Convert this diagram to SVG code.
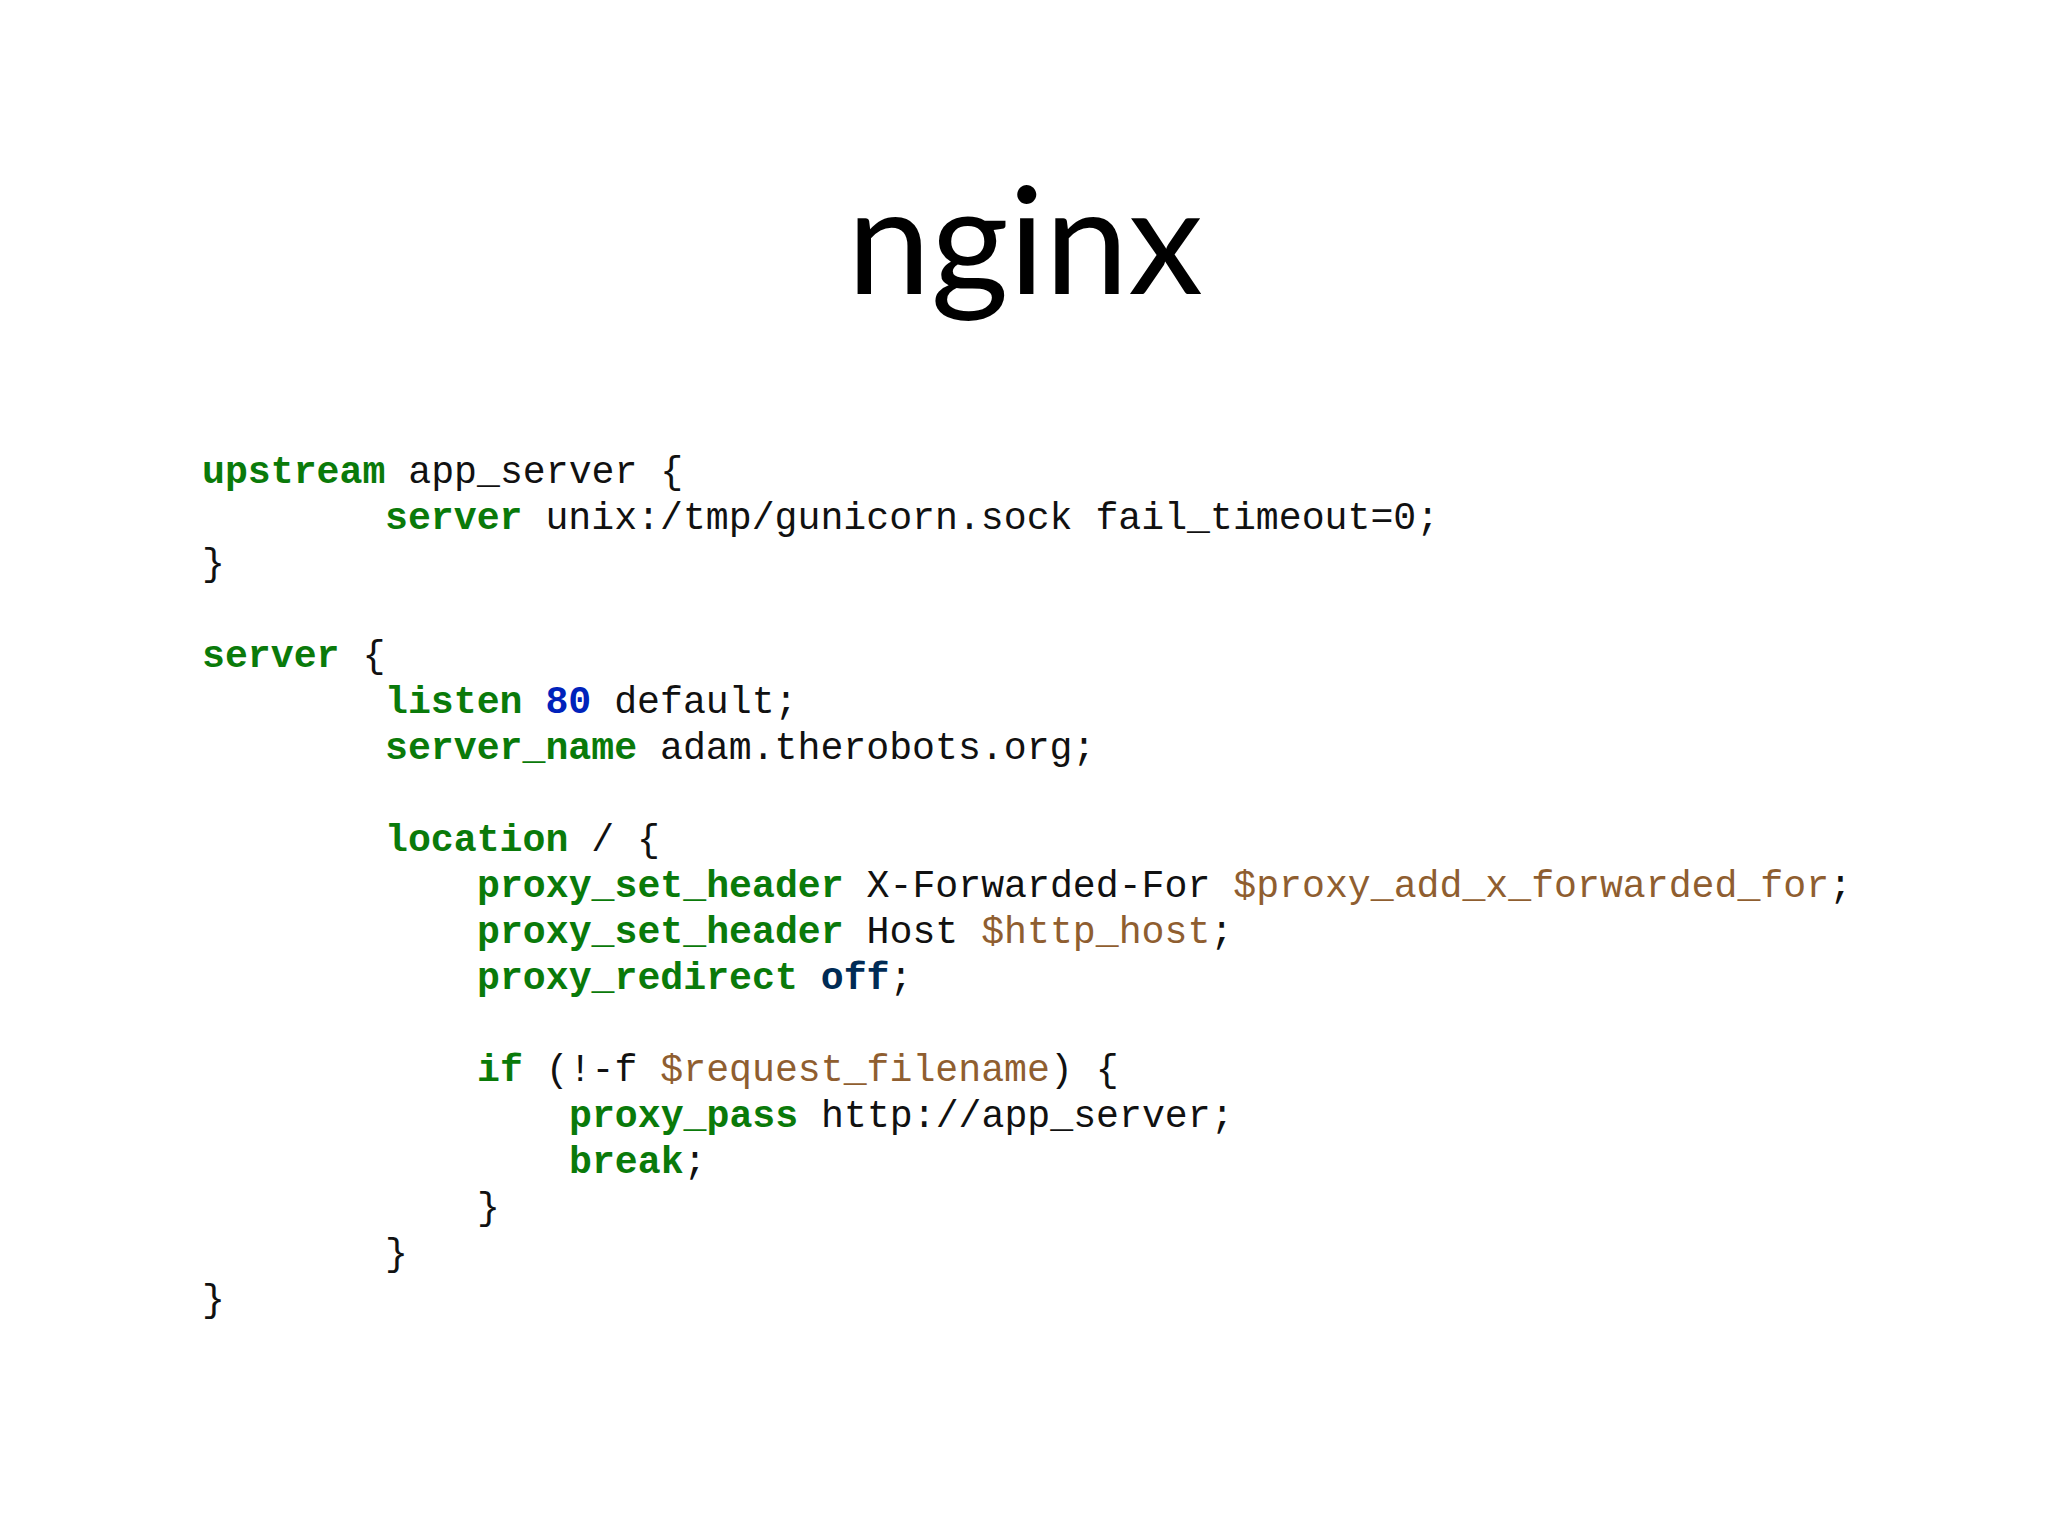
<svg xmlns="http://www.w3.org/2000/svg" width="2048" height="1536" viewBox="0 0 2048 1536">
<style>
.c{font-family:"Liberation Mono","Courier New",monospace;font-size:38.2px;fill:#111}
.k{fill:#0a7a0a;font-weight:bold}
.n{fill:#0022bb;font-weight:bold}
.o{fill:#002b55;font-weight:bold}
.v{fill:#8f5e30}
</style>
<rect width="2048" height="1536" fill="#fff"/>
<text x="1025" y="294" text-anchor="middle" font-family="Lato,'Open Sans',sans-serif" font-size="150" fill="#000">nginx</text>
<g id="code" class="c">
<text x="202" y="483"><tspan class="k">upstream</tspan> app_server {</text>
<text x="385" y="529"><tspan class="k">server</tspan> unix:/tmp/gunicorn.sock fail_timeout=0;</text>
<text x="202" y="575">}</text>
<text x="202" y="667"><tspan class="k">server</tspan> {</text>
<text x="385" y="713"><tspan class="k">listen</tspan> <tspan class="n">80</tspan> default;</text>
<text x="385" y="759"><tspan class="k">server_name</tspan> adam.therobots.org;</text>
<text x="385" y="851"><tspan class="k">location</tspan> / {</text>
<text x="477" y="897"><tspan class="k">proxy_set_header</tspan> X-Forwarded-For <tspan class="v">$proxy_add_x_forwarded_for</tspan>;</text>
<text x="477" y="943"><tspan class="k">proxy_set_header</tspan> Host <tspan class="v">$http_host</tspan>;</text>
<text x="477" y="989"><tspan class="k">proxy_redirect</tspan> <tspan class="o">off</tspan>;</text>
<text x="477" y="1081"><tspan class="k">if</tspan> (!-f <tspan class="v">$request_filename</tspan>) {</text>
<text x="569" y="1127"><tspan class="k">proxy_pass</tspan> http://app_server;</text>
<text x="569" y="1173"><tspan class="k">break</tspan>;</text>
<text x="477" y="1219">}</text>
<text x="385" y="1265">}</text>
<text x="202" y="1311">}</text>
</g>
</svg>
